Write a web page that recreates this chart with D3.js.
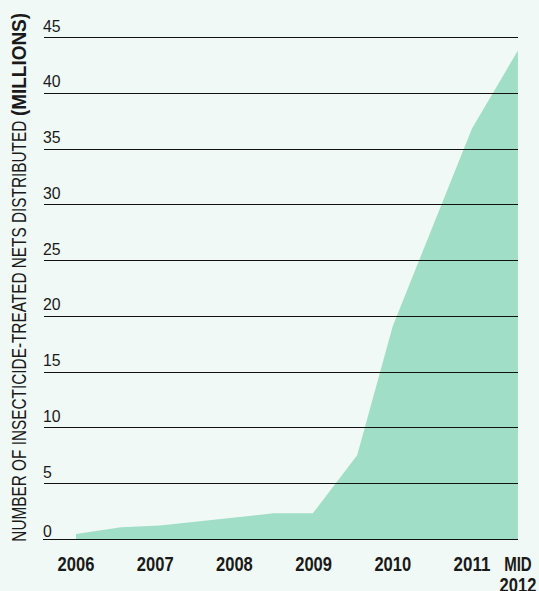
<!DOCTYPE html>
<html><head><meta charset="utf-8">
<script src="https://cdn.jsdelivr.net/npm/d3@7"></script>
<style>
html,body{margin:0;padding:0;background:#f0f9f5;}
svg{display:block;}
</style></head><body>
<svg id="chart" width="539" height="591"></svg>
<script>
// ---- data ----
const periods = [2006, 2006.57, 2007.06, 2008.49, 2008.99, 2009.55, 2010, 2011, 2011.58];
const netsMillions = [0.45, 1.05, 1.2, 2.3, 2.3, 7.5, 19.1, 36.8, 43.8];
const yTickValues = [0, 5, 10, 15, 20, 25, 30, 35, 40, 45];
const xTickValues = [2006, 2007, 2008, 2009, 2010, 2011, 2011.58];
const xTickLabels = [["2006"], ["2007"], ["2008"], ["2009"], ["2010"], ["2011"], ["MID", "2012"]];
const yTitleRegular = "NUMBER OF INSECTICIDE-TREATED NETS DISTRIBUTED";
const yTitleBold = "(MILLIONS)";

const FONT = "'Liberation Sans',Arial,sans-serif";
const svg = d3.select("#chart");
svg.append("rect").attr("width", 539).attr("height", 591).attr("fill", "#f0f9f5");

const x = d3.scaleLinear().domain([2006, 2011]).range([76, 472]);
const y = d3.scaleLinear().domain([0, 45]).range([539, 37]);

const data = periods.map((p, i) => ({p, v: netsMillions[i]}));

const area = d3.area().x(d => x(d.p)).y0(y(0)).y1(d => y(d.v));
svg.append("path").datum(data).attr("d", area).attr("fill", "#a0dec8");

// gridlines
svg.append("g").selectAll("line").data(yTickValues).join("line")
  .attr("x1", d => d === 0 ? 43 : 44).attr("x2", 518)
  .attr("y1", d => Math.round(y(d)) + 0.5).attr("y2", d => Math.round(y(d)) + 0.5)
  .attr("stroke", "#111").attr("stroke-width", 1.2);

// y tick labels
svg.append("g").selectAll("text").data(yTickValues).join("text")
  .attr("x", 43).attr("y", d => y(d) - (d === 0 ? 2.5 : 5.5))
  .attr("font-family", FONT).attr("font-size", 16.5).attr("fill", "#1a1a1a")
  .attr("textLength", d => String(d).length * 8.8).attr("lengthAdjust", "spacingAndGlyphs")
  .text(d => d);

// x tick labels
const xl = svg.append("g").selectAll("text").data(xTickValues).join("text")
  .attr("text-anchor", "middle")
  .attr("font-family", FONT).attr("font-weight", "bold").attr("font-size", 20.5).attr("fill", "#1a1a1a");
xl.each(function(d, i) {
  const t = d3.select(this);
  xTickLabels[i].forEach((s, j) => {
    t.append("tspan").attr("x", x(d)).attr("y", 570.5 + j * 21.5)
      .attr("textLength", s.length * 9.2).attr("lengthAdjust", "spacingAndGlyphs")
      .text(s);
  });
});

// y title
const title = svg.append("g").attr("transform", "translate(26,541.7) rotate(-90)");
title.append("text").attr("x", 0).attr("y", 0)
  .attr("font-family", FONT).attr("font-size", 20).attr("fill", "#1a1a1a")
  .attr("textLength", 421).attr("lengthAdjust", "spacingAndGlyphs")
  .text(yTitleRegular);
title.append("text").attr("x", 425.7).attr("y", 0)
  .attr("font-family", FONT).attr("font-weight", "bold").attr("font-size", 20).attr("fill", "#1a1a1a")
  .attr("textLength", 103).attr("lengthAdjust", "spacingAndGlyphs")
  .text(yTitleBold);
</script>
</body></html>
